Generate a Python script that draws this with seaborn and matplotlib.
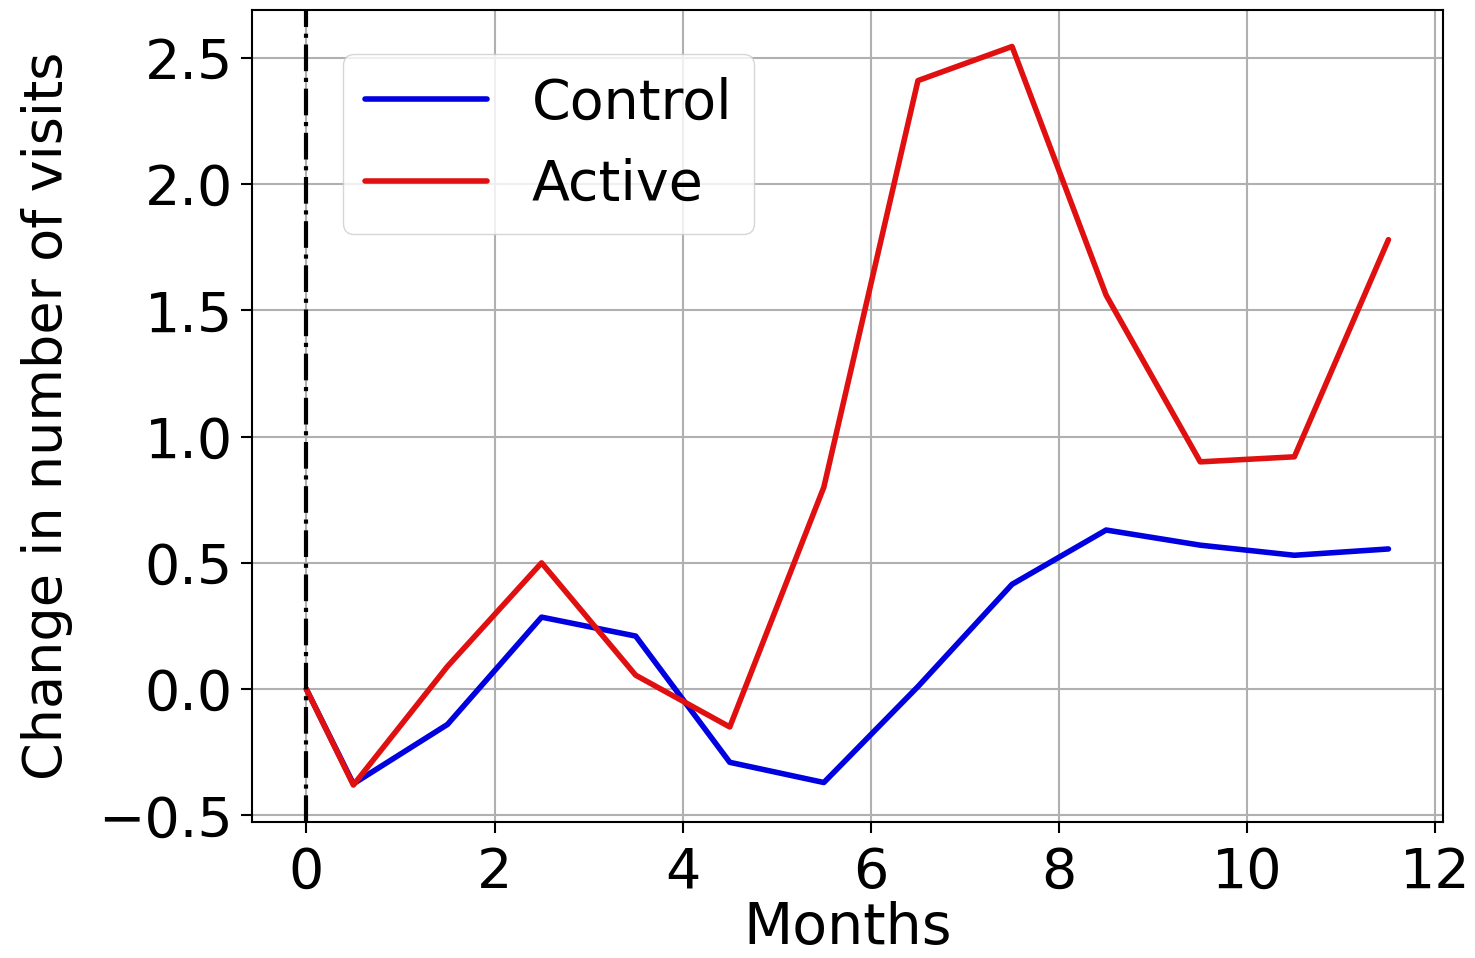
import numpy as np
import pandas as pd
import matplotlib
matplotlib.use("Agg")
import matplotlib.pyplot as plt
import seaborn as sns

months = [0, 0.5, 1.5, 2.5, 3.5, 4.5, 5.5, 6.5, 7.5, 8.5, 9.5, 10.5, 11.5]
control = [0.0, -0.375, -0.14, 0.285, 0.21, -0.29, -0.37, 0.01, 0.415, 0.63, 0.57, 0.53, 0.555]
active = [0.0, -0.38, 0.09, 0.50, 0.055, -0.15, 0.80, 2.41, 2.545, 1.56, 0.90, 0.92, 1.78]
groups = ["Control", "Active"]
colors = {"Control": "#0000e0", "Active": "#e01010"}

df = pd.concat([
    pd.DataFrame({"Months": months, "value": control, "group": groups[0]}),
    pd.DataFrame({"Months": months, "value": active, "group": groups[1]}),
])

sns.set_style("whitegrid")
plt.rcParams["font.family"] = ["DejaVu Sans"]
plt.rcParams["text.color"] = "black"
plt.rcParams["axes.labelcolor"] = "black"
plt.rcParams["xtick.color"] = "black"
plt.rcParams["ytick.color"] = "black"
fig = plt.figure(figsize=(14.75, 9.58), dpi=100)
ax = fig.add_axes([0.171, 0.142, 0.807, 0.848])
sns.lineplot(data=df, x="Months", y="value", hue="group", hue_order=groups,
             palette=colors, linewidth=4, ax=ax, legend=True)
ax.axvline(0, color="black", linestyle="-.", linewidth=3)
ax.grid(True, color="#b0b0b0", linewidth=1.5)
for s in ax.spines.values():
    s.set_color("black")
    s.set_linewidth(1.5)
ax.tick_params(axis="both", labelsize=40, length=8, width=1.5, color="black",
               bottom=True, left=True, direction="out", pad=6)
ax.tick_params(axis="x", pad=9)
ax.set_xticks([0, 2, 4, 6, 8, 10, 12])
ax.set_yticks([-0.5, 0.0, 0.5, 1.0, 1.5, 2.0, 2.5])
ax.set_xlabel("Months", fontsize=41, labelpad=1)
ax.set_ylabel("Change in number of visits", fontsize=39, labelpad=18)
leg = ax.legend(fontsize=40, loc="upper left", bbox_to_anchor=(0.076, 0.945),
                borderaxespad=0, handlelength=2.2, framealpha=0.8)
for l in leg.get_lines():
    l.set_linewidth(4)
fig.savefig("out.png", dpi=100)
